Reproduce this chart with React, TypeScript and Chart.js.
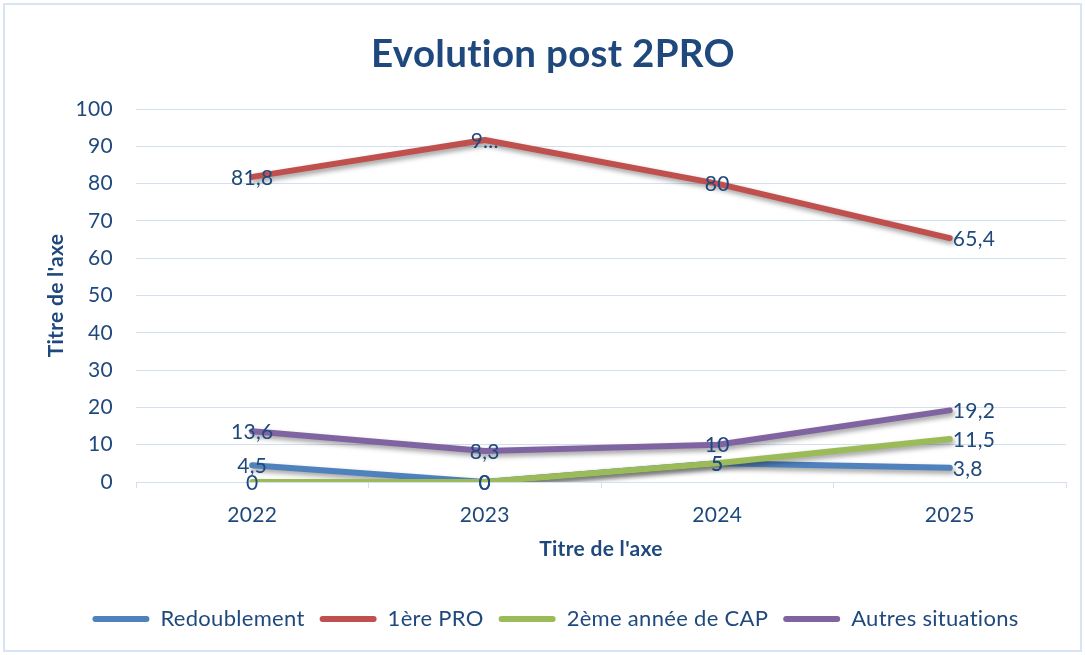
import React, { useEffect, useRef } from 'react';
import { Chart, registerables } from 'chart.js';

Chart.register(...registerables);

const years = ['2022', '2023', '2024', '2025'];
const redoublement = [4.5, 0, 5, 3.8];
const premierePro = [81.8, 91.7, 80, 65.4];
const capDeuxieme = [0, 0, 5, 11.5];
const autresSituations = [13.6, 8.3, 10, 19.2];
const seriesNames = ['Redoublement', '1ère PRO', '2ème année de CAP', 'Autres situations'];
const seriesColors = ['#4F81BD', '#C0504D', '#9BBB59', '#8064A2'];
const truncatedLabel = { dataset: 1, index: 1, text: '9...' };

const TEXT = '#1F497D';
const GRID = '#D5E0EF';
const FONT = 'Lato';
const SPACING = '0.3px';

const spacingPlugin = {
  id: 'spacing',
  beforeUpdate(chart: any) {
    (chart.ctx as any).letterSpacing = SPACING;
  },
  beforeDraw(chart: any) {
    (chart.ctx as any).letterSpacing = SPACING;
  },
};

const shiftPlugin = {
  id: 'shiftBlocks',
  afterLayout(chart: any) {
    if (chart.titleBlock) chart.titleBlock.left += 30;
    if (chart.legend) chart.legend.left += 35;
  },
};

const framePlugin = {
  id: 'frame',
  beforeDraw(chart: any) {
    const ctx = chart.ctx;
    ctx.save();
    ctx.fillStyle = '#ffffff';
    ctx.fillRect(0, 0, chart.width, chart.height);
    ctx.strokeStyle = '#D6E4F5';
    ctx.lineWidth = 2;
    ctx.strokeRect(4, 4, chart.width - 8, chart.height - 8);
    ctx.restore();
  },
};

const shadowPlugin = {
  id: 'lineShadow',
  beforeDatasetDraw(chart: any) {
    const ctx = chart.ctx;
    ctx.save();
    ctx.shadowColor = 'rgba(0,0,0,0.38)';
    ctx.shadowBlur = 5;
    ctx.shadowOffsetX = 2;
    ctx.shadowOffsetY = 3;
  },
  afterDatasetDraw(chart: any) {
    chart.ctx.restore();
  },
};

const labelPlugin = {
  id: 'valueLabels',
  afterDatasetsDraw(chart: any) {
    const ctx = chart.ctx;
    ctx.save();
    ctx.font = `21px ${FONT}`;
    ctx.fillStyle = TEXT;
    ctx.textBaseline = 'middle';
    chart.data.datasets.forEach((ds: any, di: number) => {
      const meta = chart.getDatasetMeta(di);
      meta.data.forEach((pt: any, i: number) => {
        const v = ds.data[i];
        let text = String(v).replace('.', ',');
        if (di === truncatedLabel.dataset && i === truncatedLabel.index) text = truncatedLabel.text;
        const last = i === ds.data.length - 1;
        ctx.textAlign = last ? 'left' : 'center';
        ctx.fillText(text, pt.x + (last ? 3 : 0), pt.y + 1);
      });
    });
    ctx.restore();
  },
};

export default function App() {
  const ref = useRef<HTMLCanvasElement | null>(null);

  useEffect(() => {
    if (!ref.current) return;
    const seriesData = [redoublement, premierePro, capDeuxieme, autresSituations];
    const chart = new Chart(ref.current, {
      type: 'line',
      data: {
        labels: years,
        datasets: seriesData.map((d, i) => ({
          label: seriesNames[i],
          data: d,
          borderColor: seriesColors[i],
          backgroundColor: seriesColors[i],
          borderWidth: 6,
          borderCapStyle: 'round',
          borderJoinStyle: 'round',
          pointRadius: 0,
          pointHoverRadius: 0,
          tension: 0,
          fill: false,
          order: 4 - i,
        })),
      },
      options: {
        animation: false,
        responsive: false,
        devicePixelRatio: 1,
        layout: { padding: { left: 10, right: 19, top: 0, bottom: 15 } },
        plugins: {
          tooltip: { enabled: false },
          title: {
            display: true,
            text: 'Evolution post 2PRO',
            color: TEXT,
            font: { family: FONT, size: 38.5, weight: 'bold' },
            padding: { top: 31, bottom: 31.8 },
          },
          legend: {
            display: true,
            position: 'bottom',
            labels: {
              color: TEXT,
              font: { family: FONT, size: 22 },
              boxWidth: 57,
              boxHeight: 6,
              padding: 15,
              useBorderRadius: true,
              borderRadius: 3,
              generateLabels: (c: any) =>
                c.data.datasets.map((ds: any, i: number) => ({
                  text: ds.label,
                  fillStyle: seriesColors[i],
                  strokeStyle: seriesColors[i],
                  lineWidth: 0,
                  hidden: false,
                  datasetIndex: i,
                  borderRadius: 3,
                  fontColor: TEXT,
                })),
            },
          },
        },
        scales: {
          x: {
            type: 'category',
            offset: true,
            grid: { display: true, drawOnChartArea: false, drawTicks: true, tickLength: 6, color: GRID, offset: true },
            border: { display: true, color: GRID, width: 1 },
            ticks: { color: TEXT, font: { family: FONT, size: 21 }, padding: 15, maxRotation: 0 },
            title: {
              display: true,
              text: "Titre de l'axe",
              color: TEXT,
              font: { family: FONT, size: 21, weight: 'bold' },
              padding: { top: 0, bottom: 31 },
            },
            afterFit(scale: any) {
              scale.height = 111;
            },
          },
          y: {
            min: 0,
            max: 100,
            ticks: { stepSize: 10, color: TEXT, font: { family: FONT, size: 21 }, padding: 23 },
            grid: { color: GRID, drawTicks: false },
            border: { display: false },
            title: {
              display: true,
              text: "Titre de l'axe",
              color: TEXT,
              font: { family: FONT, size: 21, weight: 'bold' },
              padding: { top: 34, bottom: 0 },
            },
            afterFit(scale: any) {
              scale.width = 126;
            },
          },
        },
      },
      plugins: [spacingPlugin, shiftPlugin, framePlugin, shadowPlugin, labelPlugin],
    } as any);
    return () => chart.destroy();
  }, []);

  return (
    <div style={{ position: 'fixed', left: 0, top: 0, width: 1085, height: 655, background: '#fff' }}>
      <canvas ref={ref} width={1085} height={655} style={{ display: 'block', width: 1085, height: 655 }} />
    </div>
  );
}
